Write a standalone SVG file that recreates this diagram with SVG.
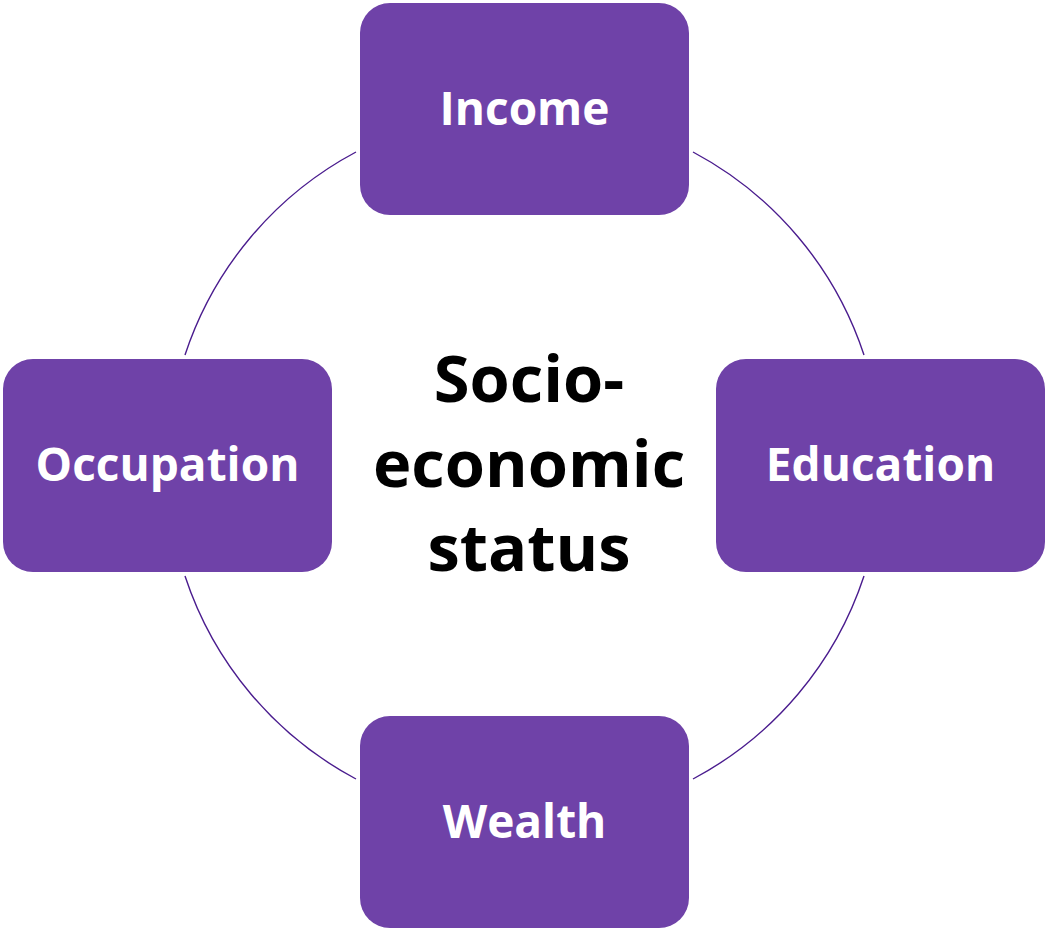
<svg xmlns="http://www.w3.org/2000/svg" width="1048" height="931" viewBox="0 0 1048 931">
  <style>
    .box { fill: #6F42A8; }
    .label { font-family: "Open Sans", "Liberation Sans", sans-serif; font-weight: bold; font-size: 46px; fill: #FFFFFF; text-anchor: middle; }
    .center { font-family: "Open Sans", "Liberation Sans", sans-serif; font-weight: bold; font-size: 65px; fill: #000000; text-anchor: middle; }
    .ring { fill: none; stroke: #4A1C8E; stroke-width: 1.4; }
  </style>
  <rect width="1048" height="931" fill="#FFFFFF"/>

  <!-- ring arcs between the boxes -->
  <g id="connectors">
    <path class="ring" d="M356,152 A356,356 0 0 0 185,355"/>
    <path class="ring" d="M693,152 A356,356 0 0 1 864,355"/>
    <path class="ring" d="M185,576 A356,356 0 0 0 356,779"/>
    <path class="ring" d="M864,576 A356,356 0 0 1 693,779"/>
  </g>

  <g id="center">
    <text class="center" x="529" y="402">Socio-</text>
    <text class="center" x="529" y="487">economic</text>
    <text class="center" x="529" y="571">status</text>
  </g>

  <g id="income">
    <rect class="box" x="360" y="3" width="329" height="212" rx="30"/>
    <text class="label" x="524.5" y="125">Income</text>
  </g>
  <g id="occupation">
    <rect class="box" x="3" y="359" width="329" height="213" rx="30"/>
    <text class="label" x="167.5" y="481">Occupation</text>
  </g>
  <g id="education">
    <rect class="box" x="716" y="359" width="329" height="213" rx="30"/>
    <text class="label" x="880.5" y="481">Education</text>
  </g>
  <g id="wealth">
    <rect class="box" x="360" y="716" width="329" height="212" rx="30"/>
    <text class="label" x="524.5" y="838">Wealth</text>
  </g>
</svg>
